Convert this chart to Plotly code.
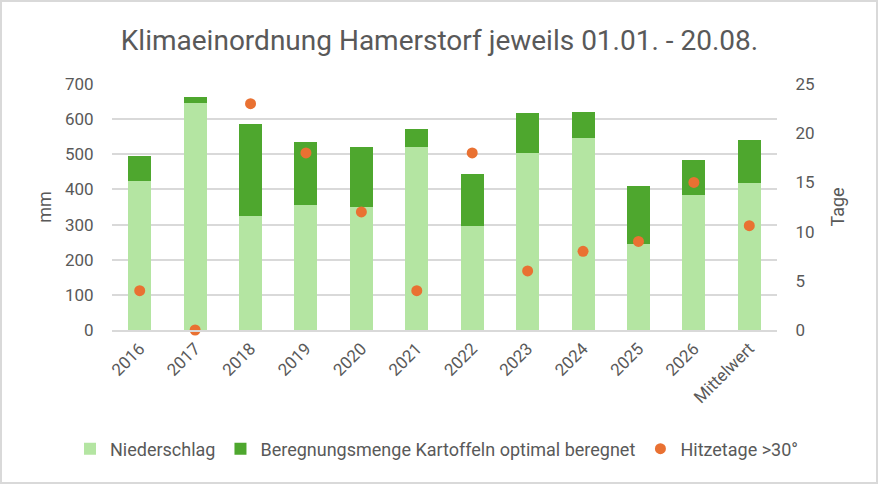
import plotly.graph_objects as go

# Data
kategorien = ['2016', '2017', '2018', '2019', '2020', '2021', '2022',
              '2023', '2024', '2025', '2026', 'Mittelwert']
niederschlag = [425, 645, 323, 357, 349, 522, 295, 504, 547, 245, 385, 418]
beregnung = [69, 17, 263, 177, 173, 50, 148, 113, 73, 164, 100, 122]
hitzetage = [4, 0, 23, 18, 12, 4, 18, 6, 8, 9, 15, 10.6]

grau = '#595959'
unsichtbar = 'rgba(0,0,0,0)'

fig = go.Figure()

fig.add_trace(go.Bar(
    x=kategorien, y=niederschlag, name='Niederschlag',
    marker=dict(color='#B4E5A2', line=dict(width=0)),
))
fig.add_trace(go.Bar(
    x=kategorien, y=beregnung, name='Beregnungsmenge Kartoffeln optimal beregnet',
    marker=dict(color='#4EA72E', line=dict(width=0)),
))
fig.add_trace(go.Scatter(
    x=kategorien, y=hitzetage, name='Hitzetage >30°', yaxis='y2',
    mode='markers', marker=dict(color='#E97132', size=11),
    cliponaxis=False,
))

fig.update_layout(
    width=879, height=485,
    barmode='stack', bargap=0.585,
    paper_bgcolor='white', plot_bgcolor='white',
    font=dict(family='Roboto', size=17, color=grau),
    title=dict(text='Klimaeinordnung Hamerstorf jeweils 01.01. - 20.08.',
               x=0.5, xanchor='center', y=0.918, yanchor='middle',
               font=dict(size=28, color=grau)),
    margin=dict(l=112, r=102, t=84, b=155, autoexpand=False),
    xaxis=dict(tickangle=-45, showline=True, linecolor='#d9d9d9', linewidth=2,
               range=[-0.5, len(kategorien) - 0.5],
               tickfont=dict(size=17, color=grau), ticks=''),
    yaxis=dict(title=dict(text='mm', standoff=8, font=dict(size=18)),
               range=[0, 700], dtick=100,
               ticks='outside', ticklen=14, tickcolor=unsichtbar,
               gridcolor='#d9d9d9', gridwidth=1.5, zeroline=False,
               tickfont=dict(size=17, color=grau)),
    yaxis2=dict(title=dict(text='Tage', standoff=17, font=dict(size=18)),
                range=[0, 25], dtick=5,
                ticks='outside', ticklen=14, tickcolor=unsichtbar,
                overlaying='y', side='right', showgrid=False, zeroline=False,
                tickfont=dict(size=17, color=grau)),
    legend=dict(orientation='h',
                x=(70 - 112) / 665, xanchor='left',
                y=(330 - 449) / 246, yanchor='middle',
                font=dict(size=18, color=grau), traceorder='normal',
                itemwidth=30),
    showlegend=True,
)

# Outer border like the chart frame
fig.add_shape(type='rect', xref='paper', yref='paper',
              x0=(1 - 112) / 665, x1=(877 - 112) / 665,
              y0=(330 - 483) / 246, y1=(330 - 1) / 246,
              line=dict(color='#d9d9d9', width=2), layer='below')

# remove the default page margin so the figure sits at the window origin
fig.write_html('out.html', config={'displayModeBar': False},
               post_script="document.body.style.margin='0';")
